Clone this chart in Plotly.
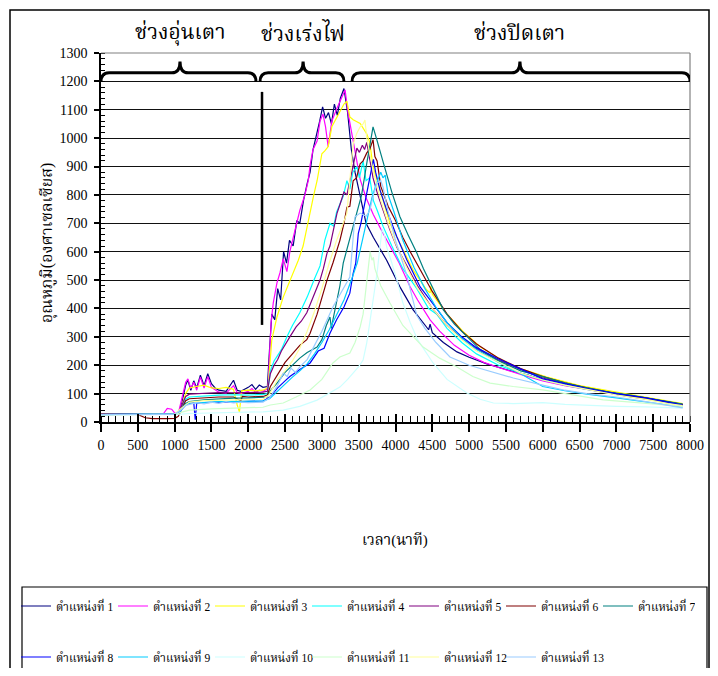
import plotly.graph_objects as go

# ---------------- data (time in minutes, temperature in deg C) ----------------
names = ["ตำแหน่งที่ 1", "ตำแหน่งที่ 2", "ตำแหน่งที่ 3", "ตำแหน่งที่ 4", "ตำแหน่งที่ 5",
         "ตำแหน่งที่ 6", "ตำแหน่งที่ 7", "ตำแหน่งที่ 8", "ตำแหน่งที่ 9", "ตำแหน่งที่ 10",
         "ตำแหน่งที่ 11", "ตำแหน่งที่ 12", "ตำแหน่งที่ 13"]
colors = ["#000080", "#FF00FF", "#FFFF00", "#00FFFF", "#800080", "#800000", "#008080",
          "#0000FF", "#00CCFF", "#CCFFFF", "#CCFFCC", "#FFFF99", "#99CCFF"]

pos1 = [(0,27),(300,28),(600,27),(900,28),(1050,30),(1100,70),(1150,130),(1180,148),(1220,112),(1260,145),
        (1300,120),(1350,165),(1400,128),(1450,170),(1500,135),(1550,120),(1600,112),(1700,108),(1800,147),
        (1850,112),(1900,108),(2000,122),(2050,132),(2100,115),(2150,130),(2200,122),(2260,125),(2290,260),
        (2320,380),(2360,360),(2400,470),(2440,430),(2480,600),(2520,560),(2560,640),(2610,620),(2660,710),
        (2700,700),(2750,780),(2800,840),(2840,880),(2880,960),(2930,1010),(2970,1060),(3010,1110),(3050,1070),
        (3090,1090),(3130,1050),(3170,1120),(3210,1080),(3250,1140),(3300,1175),(3350,1090),(3400,960),
        (3450,880),(3520,790),(3600,700),(3700,650),(3880,570),(4060,476),(4240,395),(4450,325),(4470,345),
        (4500,315),(4650,280),(4835,247),(5000,228),(5240,205),(5500,185),(5800,165),(6000,148),(6300,130),
        (6600,115),(6900,102),(7200,88),(7500,78),(7800,64),(7900,60)]
pos2 = [(0,28),(300,27),(600,28),(850,30),(900,48),(960,45),(1000,32),(1050,30),(1100,80),(1150,140),
        (1180,152),(1220,118),(1260,140),(1300,112),(1350,158),(1400,120),(1450,160),(1500,122),(1600,105),
        (1700,102),(1800,128),(1850,104),(1900,100),(2000,108),(2050,118),(2100,104),(2150,112),(2200,108),
        (2250,115),(2270,130),(2310,350),(2340,420),(2390,490),(2430,525),(2475,575),(2525,530),(2565,600),
        (2610,650),(2660,700),(2700,745),(2770,800),(2815,850),(2840,905),(2880,960),(2935,990),(2975,1060),
        (3015,1085),(3050,1040),(3085,970),(3135,1060),(3205,1105),(3250,1130),(3285,1155),(3315,1170),
        (3355,1090),(3425,985),(3520,855),(3600,790),(3700,730),(3800,680),(3925,620),(4050,560),(4195,478),
        (4300,430),(4470,360),(4600,320),(4800,270),(5000,235),(5200,210),(5400,192),(5700,168),(6000,145),
        (6300,128),(6600,114),(6900,102),(7200,90),(7500,78),(7800,64),(7900,60)]
pos3 = [(0,27),(600,27),(1000,28),(1050,30),(1100,60),(1150,100),(1200,120),(1300,125),(1400,130),(1500,120),
        (1600,118),(1700,122),(1800,115),(1850,60),(1880,35),(1910,110),(2000,112),(2100,110),(2200,112),
        (2250,118),(2270,125),(2320,290),(2390,370),(2475,440),(2540,480),(2610,525),(2680,570),(2745,620),
        (2790,680),(2840,735),(2890,800),(2935,850),(3000,945),(3040,955),(3085,970),(3135,1040),(3200,1070),
        (3245,1090),(3300,1120),(3340,1130),(3380,1075),(3425,1065),(3520,1052),(3610,1015),(3650,985),
        (3695,900),(3760,840),(3830,782),(3925,700),(4060,630),(4240,535),(4425,465),(4470,455),(4480,480),
        (4500,450),(4700,380),(4920,318),(5150,265),(5550,200),(6060,158),(6500,128),(7000,105),(7400,88),
        (7700,75),(7900,65)]
pos4 = [(0,26),(600,27),(1000,28),(1050,30),(1100,55),(1150,80),(1200,88),(1400,92),(1600,95),(1800,96),
        (2000,95),(2200,97),(2260,100),(2300,180),(2350,215),(2400,235),(2450,255),(2525,300),(2600,340),
        (2700,385),(2800,440),(2900,505),(2975,550),(3040,640),(3110,700),(3160,690),(3200,740),(3290,795),
        (3340,850),(3380,820),(3420,880),(3475,900),(3510,860),(3560,920),(3600,850),(3650,860),(3700,780),
        (3760,740),(3830,690),(3950,620),(4100,540),(4290,470),(4450,400),(4560,380),(4700,330),(4900,280),
        (5100,240),(5400,200),(5700,172),(6000,148),(6300,130),(6600,115),(7000,98),(7400,82),(7700,68),(7900,58)]
pos5 = [(0,27),(600,27),(1000,28),(1050,30),(1100,60),(1150,90),(1200,98),(1400,102),(1600,104),(1800,103),
        (2000,104),(2200,105),(2260,108),(2300,170),(2350,200),(2400,220),(2450,250),(2500,270),(2565,300),
        (2650,335),(2720,355),(2795,385),(2850,420),(2900,450),(2975,500),(3020,540),(3070,595),(3110,620),
        (3160,680),(3205,735),(3250,770),(3300,810),(3340,800),(3380,852),(3425,900),(3475,965),(3510,950),
        (3550,975),(3580,960),(3610,985),(3640,940),(3695,860),(3760,800),(3830,745),(3920,680),(4020,615),
        (4150,550),(4300,480),(4500,400),(4700,340),(4900,295),(5100,258),(5400,218),(5700,185),(6000,155),
        (6300,135),(6600,118),(7000,100),(7400,85),(7700,70),(7900,61)]
pos6 = [(0,27),(500,27),(600,15),(700,12),(900,12),(1000,13),(1050,20),(1100,50),(1150,75),(1200,82),
        (1400,85),(1600,88),(1800,88),(1900,75),(1920,90),(2000,88),(2200,90),(2260,95),(2300,125),(2400,170),
        (2500,210),(2600,240),(2700,270),(2795,290),(2840,313),(2935,380),(3000,440),(3070,500),(3150,560),
        (3245,640),(3300,700),(3340,757),(3380,760),(3425,850),(3470,860),(3520,910),(3560,920),(3610,948),
        (3650,960),(3695,995),(3720,935),(3750,920),(3800,830),(3900,760),(4000,710),(4100,650),(4200,600),
        (4350,530),(4500,460),(4700,380),(4900,320),(5100,275),(5400,225),(5700,188),(6000,160),(6300,138),
        (6600,120),(7000,100),(7400,84),(7700,70),(7900,62)]
pos7 = [(0,27),(600,27),(1000,28),(1050,30),(1100,50),(1150,65),(1200,72),(1400,78),(1600,82),(1800,84),
        (2000,85),(2200,86),(2260,88),(2300,110),(2400,140),(2500,175),(2600,200),(2700,225),(2800,245),
        (2935,264),(3000,290),(3060,340),(3110,370),(3130,330),(3150,360),(3200,420),(3245,480),(3290,560),
        (3380,650),(3475,735),(3540,800),(3610,912),(3660,980),(3695,1040),(3740,1000),(3790,958),(3850,900),
        (3950,810),(4060,723),(4170,660),(4290,595),(4380,540),(4470,490),(4560,440),(4650,395),(4800,345),
        (4970,300),(5150,255),(5380,218),(5700,180),(6000,160),(6300,138),(6550,123),(6900,105),(7185,95),
        (7500,82),(7800,68),(7900,63)]
pos8 = [(0,26),(600,27),(1000,28),(1050,30),(1100,45),(1150,60),(1200,65),(1260,68),(1280,8),(1300,66),
        (1400,68),(1600,70),(1800,72),(2000,72),(2200,74),(2295,88),(2400,120),(2500,145),(2565,160),(2700,185),
        (2840,208),(2950,250),(3030,260),(3110,313),(3200,360),(3300,405),(3380,454),(3425,524),(3460,560),
        (3495,665),(3530,700),(3565,747),(3610,807),(3650,850),(3680,898),(3700,925),(3730,880),(3790,817),
        (3880,747),(4020,652),(4155,571),(4335,476),(4500,420),(4700,350),(4900,300),(5100,262),(5400,222),
        (5700,187),(6000,152),(6300,135),(6600,118),(7000,100),(7400,85),(7700,70),(7900,60)]
pos9 = [(0,26),(600,27),(1000,27),(1050,29),(1100,45),(1150,62),(1200,66),(1400,70),(1600,72),(1800,73),
        (2000,73),(2200,74),(2290,82),(2400,110),(2500,135),(2600,158),(2700,180),(2800,205),(2900,240),
        (3000,280),(3100,325),(3200,375),(3300,430),(3400,500),(3480,560),(3550,640),(3620,720),(3680,790),
        (3740,840),(3800,880),(3830,860),(3860,870),(3900,800),(3980,740),(4100,640),(4250,545),(4400,470),
        (4560,400),(4700,350),(4900,295),(5100,255),(5400,210),(5700,170),(6000,125),(6300,110),(6600,98),
        (7000,85),(7400,72),(7700,60),(7900,52)]
pos10 = [(0,25),(600,26),(1000,26),(1100,28),(1200,30),(1500,32),(1800,34),(2000,35),(2200,36),(2475,42),
         (2700,55),(2935,77),(3100,100),(3245,123),(3350,150),(3425,173),(3500,195),(3560,218),(3610,280),
         (3650,349),(3700,440),(3750,525),(3790,620),(3820,680),(3850,660),(3880,617),(3950,560),(4020,500),
         (4100,420),(4200,350),(4300,290),(4510,208),(4700,150),(4970,102),(5150,80),(5330,67),(5600,65),
         (6000,68),(6300,62),(6600,58),(7000,55),(7400,53),(7900,49)]
pos11 = [(0,26),(600,27),(1000,27),(1100,35),(1200,42),(1500,46),(1800,48),(2000,50),(2200,52),(2300,60),
         (2475,67),(2650,88),(2840,113),(3000,150),(3150,208),(3245,229),(3380,243),(3450,280),(3520,335),
         (3560,380),(3600,470),(3630,525),(3655,600),(3680,570),(3700,580),(3720,540),(3800,480),(3925,419),
         (4100,340),(4375,264),(4600,225),(4835,194),(5050,160),(5285,137),(5600,125),(6000,113),(6400,95),
         (6820,78),(7200,70),(7600,60),(7900,55)]
pos12 = [(0,26),(600,27),(1000,28),(1100,50),(1200,70),(1400,75),(1600,76),(1800,78),(2000,78),(2200,80),
         (2280,95),(2400,150),(2475,172),(2600,215),(2700,260),(2800,320),(2900,390),(3000,470),(3100,560),
         (3200,640),(3290,700),(3340,736),(3380,852),(3425,980),(3475,1017),(3520,1040),(3560,1050),
         (3585,1064),(3610,1000),(3650,940),(3700,880),(3800,780),(3900,700),(4000,630),(4150,545),(4300,470),
         (4500,400),(4700,340),(4900,290),(5100,250),(5400,210),(5700,172),(6000,148),(6300,130),(6600,115),
         (7000,95),(7400,80),(7700,65),(7900,58)]
pos13 = [(0,26),(600,27),(1000,27),(1100,45),(1150,58),(1200,62),(1300,68),(1400,64),(1500,70),(1600,66),
         (1700,72),(1800,67),(1900,70),(2000,68),(2200,70),(2290,85),(2400,130),(2475,172),(2530,160),
         (2580,190),(2640,175),(2700,194),(2800,220),(2900,270),(3000,320),(3150,405),(3250,450),(3380,511),
         (3425,650),(3450,723),(3520,736),(3600,725),(3650,745),(3700,800),(3750,842),(3800,850),(3830,828),
         (3900,740),(4000,640),(4150,520),(4290,375),(4400,330),(4550,280),(4740,229),(5000,200),(5240,183),
         (5600,155),(6000,130),(6300,112),(6600,100),(7000,88),(7400,72),(7700,58),(7900,50)]
series = [pos1, pos2, pos3, pos4, pos5, pos6, pos7, pos8, pos9, pos10, pos11, pos12, pos13]

x_ticks = list(range(0, 8001, 500))
y_ticks = list(range(0, 1301, 100))
phase_labels = ["ช่วงอุ่นเตา", "ช่วงเร่งไฟ", "ช่วงปิดเตา"]
# brace spans (start, peak, end) in minutes
phase_spans = [(0, 1073, 2105), (2160, 2745, 3300), (3410, 5690, 8000)]

NUM_FONT = "Liberation Serif, Times New Roman, serif"
TH_FONT = "Liberation Serif, Noto Serif Thai, Noto Sans Thai, Garuda, Loma, sans-serif"

fig = go.Figure()
for i, (pts, nm, col) in enumerate(zip(series, names, colors)):
    xs = [p[0] for p in pts]
    ys = [p[1] for p in pts]
    fig.add_trace(go.Scatter(x=xs, y=ys, mode="lines", name=nm,
                             line=dict(color=col, width=1.2),
                             legend="legend" if i < 7 else "legend2"))
# blank spacer entry so the last text of the 2nd legend row is not clipped
fig.add_trace(go.Scatter(x=[None], y=[None], mode="lines", name=" ", legend="legend2",
                         line=dict(color="rgba(0,0,0,0)", width=0), hoverinfo="skip"))

# page has an 8px body margin: figure coords = screen coords - 8
OFF = 8
W, H = 702, 660
L, T = 101 - OFF, 53 - OFF
R = W - (690 - OFF)
B = H - (422 - OFF)
pw, ph = W - L - R, H - T - B
def sx(xs_):
    return (xs_ - OFF - L) / pw
def sy(ys_):
    return (H - B - (ys_ - OFF)) / ph

shapes = []
# outer chart frame and legend frame
shapes.append(dict(type="rect", xref="paper", yref="paper", x0=sx(10), x1=sx(709), y0=sy(690), y1=sy(10),
                   line=dict(color="black", width=1.5), layer="below"))
shapes.append(dict(type="rect", xref="paper", yref="paper", x0=sx(22), x1=sx(707), y0=sy(690), y1=sy(587),
                   line=dict(color="black", width=1.2), layer="below"))
# plot area top / right border
shapes.append(dict(type="line", xref="paper", yref="paper", x0=0, x1=1, y0=1, y1=1,
                   line=dict(color="#808080", width=1.2)))
shapes.append(dict(type="line", xref="paper", yref="paper", x0=1, x1=1, y0=0, y1=1,
                   line=dict(color="#808080", width=1.2)))
# braces (data coords)
yb, yh, yp, r = 1198, 1230, 1270, 110
for (a, m, b) in phase_spans:
    path = (f"M{a},{yb} Q{a},{yh} {a+r},{yh} L{m-r},{yh} Q{m},{yh} {m},{yp} "
            f"Q{m},{yh} {m+r},{yh} L{b-r},{yh} Q{b},{yh} {b},{yb}")
    shapes.append(dict(type="path", xref="x", yref="y", path=path,
                       line=dict(color="black", width=3)))
# vertical marker line
shapes.append(dict(type="line", xref="x", yref="y", x0=2187, x1=2187, y0=342, y1=1163,
                   line=dict(color="black", width=2.5)))

annotations = []
for lab, (a, m, b) in zip(phase_labels, phase_spans):
    annotations.append(dict(text=lab, xref="x", yref="paper", x=m, y=sy(33), showarrow=False,
                            font=dict(family=TH_FONT, size=21, color="black"),
                            xanchor="center", yanchor="middle"))
annotations.append(dict(text="อุณหภูมิ(องศาเซลเซียส)", xref="paper", yref="paper", x=sx(48), y=sy(243),
                        textangle=-90, showarrow=False, font=dict(family=TH_FONT, size=16, color="black"),
                        xanchor="center", yanchor="middle"))
annotations.append(dict(text="เวลา(นาที)", xref="paper", yref="paper", x=sx(395), y=sy(540),
                        showarrow=False, font=dict(family=TH_FONT, size=15, color="black"),
                        xanchor="center", yanchor="middle"))

fig.update_layout(
    width=W, height=H, margin=dict(l=L, r=R, t=T, b=B, autoexpand=False),
    paper_bgcolor="white", plot_bgcolor="white",
    showlegend=True,
    legend=dict(orientation="h", x=sx(16), y=sy(606), xanchor="left", yanchor="middle",
                entrywidth=52, font=dict(family=TH_FONT, size=11.5, color="black"),
                bgcolor="rgba(0,0,0,0)", traceorder="normal"),
    legend2=dict(orientation="h", x=sx(16), y=sy(657), xanchor="left", yanchor="middle",
                 entrywidth=52, font=dict(family=TH_FONT, size=11.5, color="black"),
                 bgcolor="rgba(0,0,0,0)", traceorder="normal"),
    xaxis=dict(range=[0, 8000], tickvals=x_ticks, showgrid=False, zeroline=False,
               showline=True, linecolor="black", linewidth=1.5,
               ticks="outside", ticklen=8, tickwidth=1.5, tickcolor="black",
               ticklabelstandoff=1,
               minor=dict(dtick=100, ticks="inside", ticklen=6, tickcolor="black", tickwidth=1),
               tickfont=dict(family=NUM_FONT, size=14, color="black")),
    xaxis2=dict(range=[0, 8000], overlaying="x", side="bottom", tickvals=x_ticks, showticklabels=False,
                showgrid=False, zeroline=False, ticks="inside", ticklen=8, tickwidth=1.5, tickcolor="black"),
    yaxis=dict(range=[0, 1300], tickvals=y_ticks, showgrid=True, gridcolor="#111111", gridwidth=1,
               zeroline=False, showline=True, linecolor="black", linewidth=1.5,
               ticks="outside", ticklen=5, tickwidth=1.5, tickcolor="black",
               ticklabelstandoff=4,
               minor=dict(dtick=20, ticks="inside", ticklen=4, tickcolor="black", tickwidth=1, showgrid=False),
               tickfont=dict(family=NUM_FONT, size=14, color="black")),
    shapes=shapes, annotations=annotations,
)
# invisible trace on xaxis2 so the overlay axis is drawn
fig.add_trace(go.Scatter(x=[0], y=[0], xaxis="x2", mode="markers", marker=dict(opacity=0),
                         showlegend=False, hoverinfo="skip"))

fig.write_html("out.html")
